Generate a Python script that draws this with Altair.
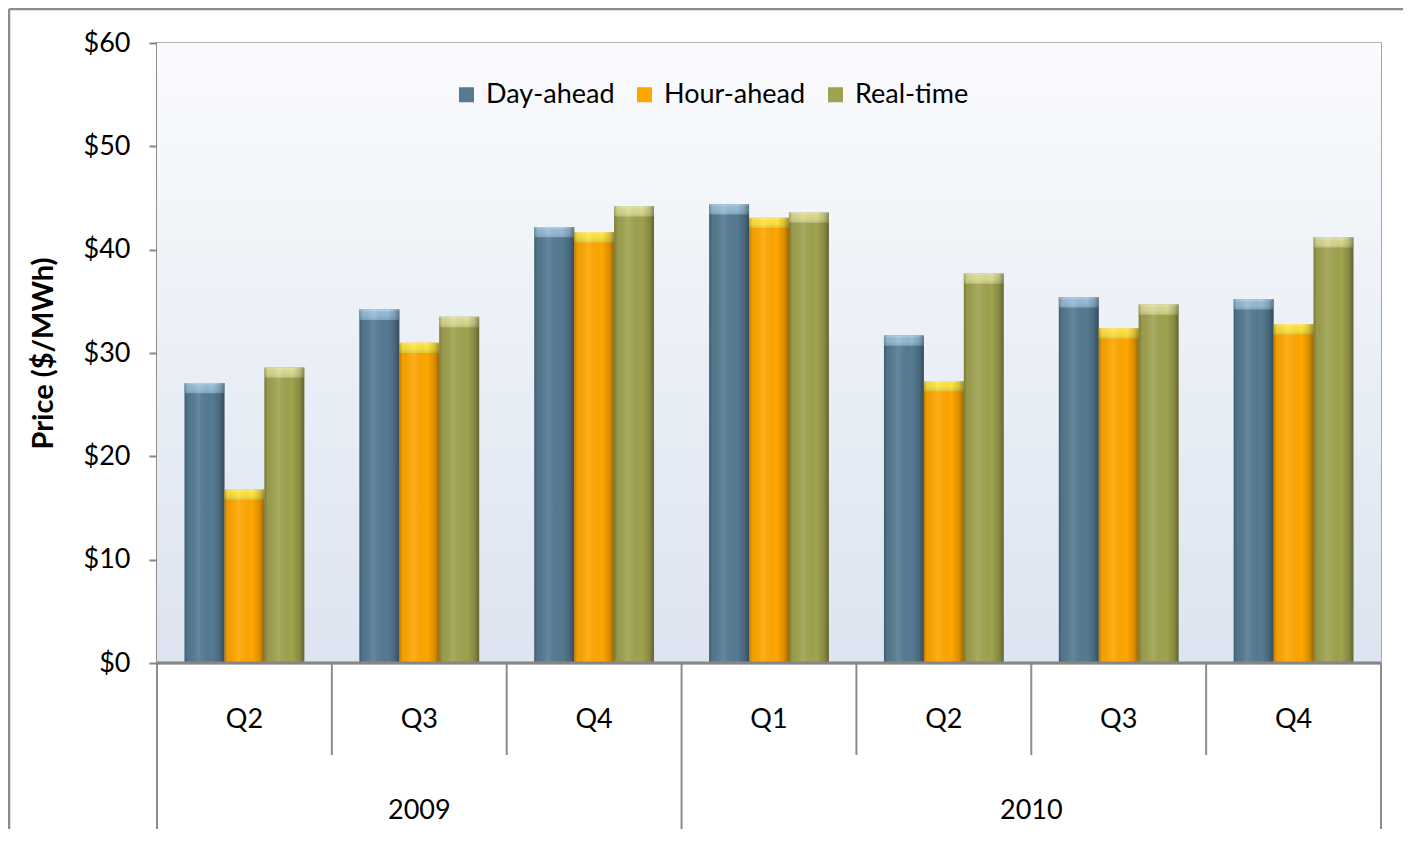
import altair as alt
import pandas as pd

# ---- data ----
quarters = ["Q2", "Q3", "Q4", "Q1", "Q2", "Q3", "Q4"]
years = ["2009", "2009", "2009", "2010", "2010", "2010", "2010"]
series_names = ["Day-ahead", "Hour-ahead", "Real-time"]
day_ahead = [27.1, 34.2, 42.2, 44.4, 31.7, 35.4, 35.2]
hour_ahead = [16.8, 31.0, 41.7, 43.1, 27.3, 32.4, 32.8]
real_time = [28.6, 33.5, 44.2, 43.6, 37.7, 34.7, 41.2]
y_ticks = [0, 10, 20, 30, 40, 50, 60]

base_colors = ["#557a91", "#ffa600", "#9fa24e"]
cap_colors = ["#92bad6", "#ffe23a", "#d9d98c"]

periods = [f"{y} {q}" for y, q in zip(years, quarters)]
n = len(periods)

rows = []
for s, vals in zip(series_names, [day_ahead, hour_ahead, real_time]):
    for i, (p, q, y, v) in enumerate(zip(periods, quarters, years, vals)):
        rows.append({"period": p, "quarter": q, "year": y, "series": s, "value": v, "idx": i})
df = pd.DataFrame(rows)

labels_df = pd.DataFrame({"quarter": quarters, "year": years, "idx": list(range(n))})

bounds = []
for b in range(n + 1):
    is_year = b == 0 or b == n or years[b] != years[b - 1]
    bounds.append({"b": b, "kind": "year" if is_year else "quarter"})
bounds_df = pd.DataFrame(bounds)

W, H = 1224, 620
FONT = "Lato"

xband = alt.X("period:N", sort=periods, axis=None,
              scale=alt.Scale(paddingInner=0, paddingOuter=0))
xoff = alt.XOffset("series:N", sort=series_names,
                   scale=alt.Scale(paddingInner=0, paddingOuter=0.69))
yscale = alt.Scale(domain=[0, 60], nice=False)
lin = alt.Scale(domain=[0, n], nice=False, zero=False)

one = labels_df[labels_df["idx"] == 0]

border_left = alt.Chart(one).mark_rule(color="#8c8c8c", strokeWidth=2.5).encode(
    x=alt.value(-148), y=alt.value(-34), y2=alt.value(H + 400)
)
border_top = alt.Chart(one).mark_rule(color="#8c8c8c", strokeWidth=2.5).encode(
    x=alt.value(-148), x2=alt.value(W + 300), y=alt.value(-34)
)

plot_bg = alt.Chart(one).mark_rect(
    fill=alt.LinearGradient(
        gradient="linear", x1=0, y1=0, x2=0, y2=1,
        stops=[alt.GradientStop(offset=0, color="#fafbfd"),
               alt.GradientStop(offset=1, color="#dbe4f0")],
    )
).encode(x=alt.value(0), x2=alt.value(W), y=alt.value(0), y2=alt.value(H))

bars = alt.Chart(df).mark_bar().encode(
    x=xband, xOffset=xoff,
    y=alt.Y("value:Q", scale=yscale,
            axis=alt.Axis(title="Price ($/MWh)", values=y_ticks,
                          labelExpr="'$' + datum.value",
                          labelFontSize=27, labelColor="#000000", labelPadding=19,
                          tickSize=8, tickColor="#868686", tickWidth=2,
                          domainColor="#868686", domainWidth=2.5,
                          gridColor="#c0c0c0", gridWidth=2,
                          titleFontSize=29, titleFontWeight="bold", titleColor="#000000",
                          titleX=-114, titleY=H / 2, titleAlign="center",
                          titleBaseline="middle", titleAngle=270)),
    color=alt.Color("series:N", sort=series_names,
                    scale=alt.Scale(domain=series_names, range=base_colors),
                    legend=alt.Legend(title=None, orient="none", direction="horizontal",
                                      legendX=296, legendY=38, labelFontSize=27,
                                      labelColor="#000000", symbolType="square",
                                      symbolSize=225, symbolStrokeWidth=0,
                                      labelOffset=6, columnPadding=16, padding=0)),
)

caps = alt.Chart(df).transform_calculate(
    cap_low="datum.value - 1.0"
).mark_bar().encode(
    x=xband, xOffset=xoff,
    y=alt.Y("value:Q", scale=yscale),
    y2="cap_low:Q",
    color=alt.Color("series:N", sort=series_names,
                    scale=alt.Scale(domain=series_names, range=cap_colors), legend=None),
)

cap_fade = alt.Chart(df).transform_calculate(
    cap_low="datum.value - 1.0"
).mark_bar(
    fill=alt.LinearGradient(
        gradient="linear", x1=0, y1=0, x2=0, y2=1,
        stops=[
            alt.GradientStop(offset=0, color="rgba(255,255,255,0.35)"),
            alt.GradientStop(offset=0.3, color="rgba(255,255,255,0.0)"),
            alt.GradientStop(offset=1, color="rgba(0,0,0,0.12)"),
        ],
    ),
).encode(x=xband, xOffset=xoff, y=alt.Y("value:Q", scale=yscale), y2="cap_low:Q")

shade = alt.Chart(df).mark_bar(
    fill=alt.LinearGradient(
        gradient="linear", x1=0, y1=0, x2=1, y2=0,
        stops=[
            alt.GradientStop(offset=0, color="rgba(0,0,0,0.25)"),
            alt.GradientStop(offset=0.08, color="rgba(0,0,0,0.05)"),
            alt.GradientStop(offset=0.35, color="rgba(255,255,255,0.10)"),
            alt.GradientStop(offset=0.7, color="rgba(0,0,0,0.0)"),
            alt.GradientStop(offset=0.88, color="rgba(0,0,0,0.15)"),
            alt.GradientStop(offset=1, color="rgba(0,0,0,0.38)"),
        ],
    ),
).encode(x=xband, xOffset=xoff, y=alt.Y("value:Q", scale=yscale))

xline = alt.Chart(one).mark_rule(color="#868686", strokeWidth=3).encode(
    x=alt.value(0), x2=alt.value(W), y=alt.value(H)
)

q_rules = alt.Chart(bounds_df).transform_filter("datum.kind == 'quarter'").mark_rule(
    color="#8c8c8c", strokeWidth=2
).encode(x=alt.X("b:Q", scale=lin, axis=None), y=alt.value(H), y2=alt.value(H + 92))

y_rules = alt.Chart(bounds_df).transform_filter("datum.kind == 'year'").mark_rule(
    color="#8c8c8c", strokeWidth=2
).encode(x=alt.X("b:Q", scale=lin, axis=None), y=alt.value(H), y2=alt.value(H + 300))

q_text = alt.Chart(labels_df).transform_calculate(mid="datum.idx + 0.5").mark_text(
    fontSize=27, baseline="middle", align="center", color="#000000"
).encode(x=alt.X("mid:Q", scale=lin, axis=None), y=alt.value(H + 57), text="quarter:N")

yr_text = alt.Chart(labels_df).transform_calculate(mid="datum.idx + 0.5").transform_aggregate(
    mid="mean(mid)", groupby=["year"]
).mark_text(
    fontSize=27, baseline="middle", align="center", color="#000000"
).encode(x=alt.X("mid:Q", scale=lin, axis=None), y=alt.value(H + 148), text="year:N")

chart = alt.layer(
    border_left, border_top, plot_bg, bars, caps, cap_fade, shade,
    xline, q_rules, y_rules, q_text, yr_text
).resolve_scale(
    x="independent", color="independent", xOffset="independent"
).properties(
    width=W, height=H,
    autosize=alt.AutoSizeParams(type="none"),
    padding={"left": 149, "top": 35, "right": 22, "bottom": 166},
).configure(
    font=FONT,
).configure_view(
    stroke="#a6a6a6", strokeWidth=2,
)

chart.save("out.html", embed_options={"renderer": "svg", "actions": False})
